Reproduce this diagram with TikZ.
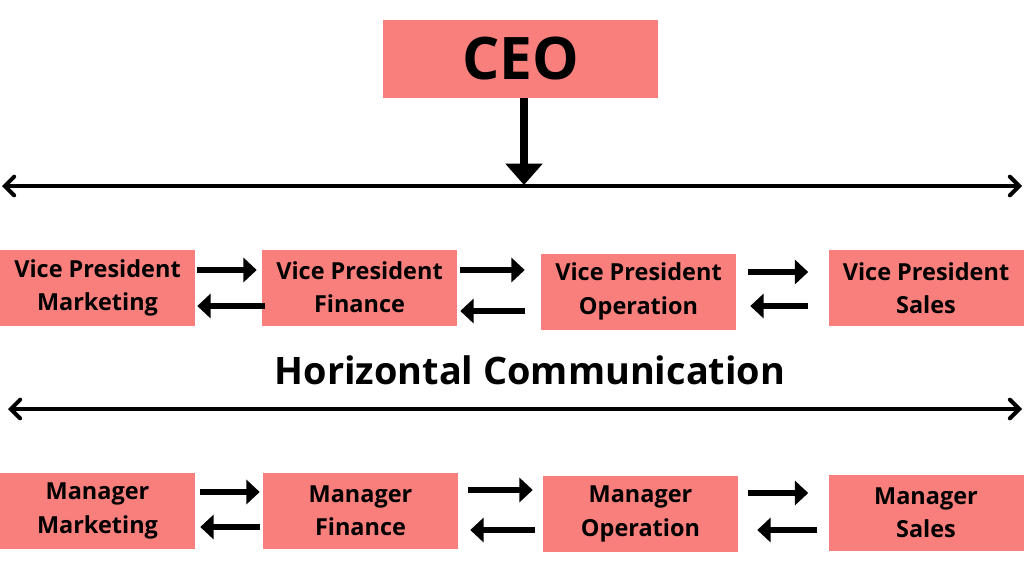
\documentclass[tikz,border=0pt]{standalone}
\usepackage{fontspec}
\setmainfont{Open Sans}
\usepackage{tikz}
\usetikzlibrary{arrows.meta}
\definecolor{boxred}{RGB}{249,127,125}

\begin{document}
\begin{tikzpicture}[x=0.75pt,y=-0.75pt]
	\tikzstyle{every node}=[font=\bfseries]
	\tikzstyle{post}=[fill=boxred,minimum width=146.25pt,minimum height=57pt,inner sep=0pt,align=center,font=\bfseries\fontsize{17.6}{25}\selectfont]
	\tikzstyle{flow}=[line width=3.8pt,-{Triangle[length=10pt,width=18pt]}]
	\tikzstyle{span}=[line width=3pt,{Straight Barb[length=7pt,width=14pt,line cap=round]}-{Straight Barb[length=7pt,width=14pt,line cap=round]}]
	\useasboundingbox (0,0) rectangle (1024,576);

	\node[fill=boxred,minimum width=206.25pt,minimum height=58.5pt,inner sep=0pt,font=\bfseries\fontsize{44}{45}\selectfont] (ceo) at (520.5,59) {CEO};
	\coordinate (ceotip) at (524,185);
	\draw[line width=6pt,-{Triangle[length=16pt,width=27pt]}] ([shift={(3.5,0)}]ceo.south) -- (ceotip);

	\coordinate (topl) at (2,186);
	\coordinate (topr) at (1022,186);
	\draw[span] (topl) -- (topr);

	\node[post] (vpm) at (97.5,288) {Vice President\\Marketing};
	\node[post] (vpf) at (359.5,287.5) {Vice President\\Finance};
	\node[post] (vpo) at (638.5,291.5) {Vice President\\Operation};
	\node[post] (vps) at (926,288) {Vice President\\Sales};

	\draw[flow] ([shift={(2,-18)}]vpm.east) -- ([shift={(-5,-17.5)}]vpf.west);
	\draw[flow] ([shift={(3,18.5)}]vpf.west) -- ([shift={(2,18)}]vpm.east);
	\draw[flow] ([shift={(3,-17.5)}]vpf.east) -- ([shift={(-16,-21.5)}]vpo.west);
	\draw[flow] ([shift={(-16,19.5)}]vpo.west) -- ([shift={(3,23.5)}]vpf.east);
	\draw[flow] ([shift={(12,-19.5)}]vpo.east) -- ([shift={(-20,-16)}]vps.west);
	\draw[flow] ([shift={(-20,18)}]vps.west) -- ([shift={(14,14.5)}]vpo.east);

	\node[font=\bfseries\fontsize{28.4}{30}\selectfont] (horiz) at (530,370) {Horizontal Communication};

	\coordinate (midl) at (8,409);
	\coordinate (midr) at (1022,409);
	\draw[span] (midl) -- (midr);

	\node[post] (mm) at (97.5,511) {Manager\\Marketing};
	\node[post] (mf) at (360.5,511) {Manager\\Finance};
	\node[post] (mo) at (640.5,514) {Manager\\Operation};
	\node[post] (ms) at (926,513) {Manager\\Sales};

	\draw[flow] ([shift={(5,-19)}]mm.east) -- ([shift={(-3,-19)}]mf.west);
	\draw[flow] ([shift={(-3,16)}]mf.west) -- ([shift={(5,16)}]mm.east);
	\draw[flow] ([shift={(10,-21)}]mf.east) -- ([shift={(-10,-24)}]mo.west);
	\draw[flow] ([shift={(-8,16)}]mo.west) -- ([shift={(12,19)}]mf.east);
	\draw[flow] ([shift={(10,-21)}]mo.east) -- ([shift={(-20,-20)}]ms.west);
	\draw[flow] ([shift={(-11,17)}]ms.west) -- ([shift={(19,16)}]mo.east);
\end{tikzpicture}
\end{document}
